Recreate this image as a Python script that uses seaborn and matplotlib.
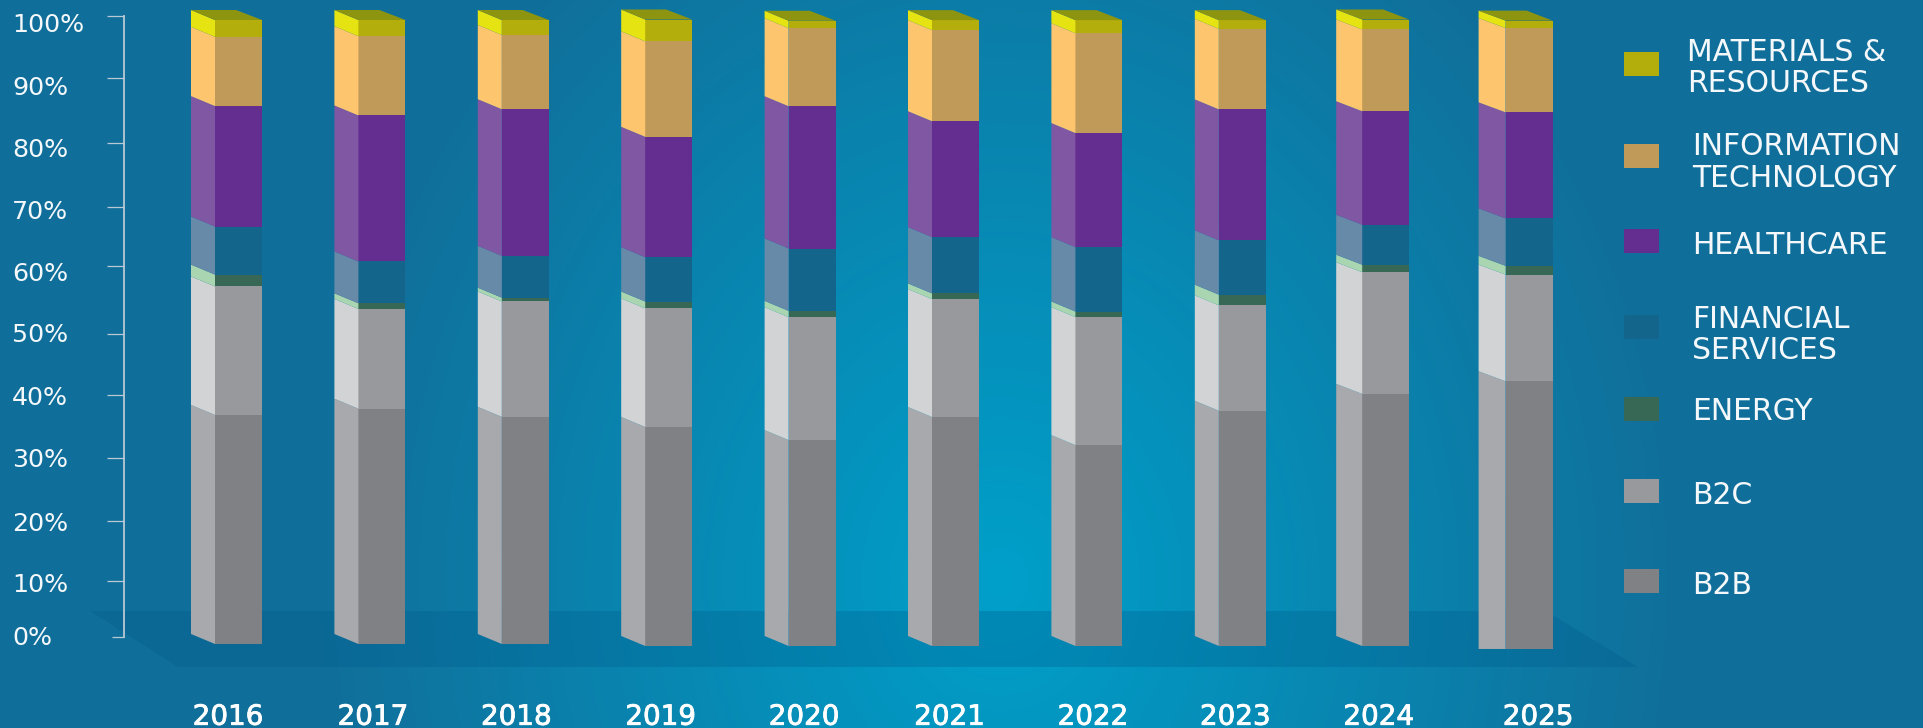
import numpy as np
import pandas as pd
import matplotlib
matplotlib.use("Agg")
import matplotlib.pyplot as plt
import matplotlib.patheffects as pe
from matplotlib.colors import to_rgb
from matplotlib.patches import Polygon, Rectangle
from matplotlib.transforms import ScaledTranslation
import seaborn as sns

# Portfolio share by sector, one list per sector, 2016 to 2025
years = ["2016", "2017", "2018", "2019", "2020", "2021", "2022", "2023", "2024", "2025"]
b2b = [36.7, 37.7, 36.4, 35.1, 33.0, 36.7, 32.2, 37.7, 40.4, 42.9]
b2c = [20.6, 16.0, 18.5, 19.0, 19.7, 18.9, 20.5, 16.9, 19.5, 17.1]
energy = [1.9, 0.9, 0.6, 1.1, 1.0, 0.9, 0.9, 1.7, 1.2, 1.4]
financial = [7.7, 6.7, 6.7, 7.1, 10.0, 9.0, 10.3, 8.7, 6.4, 7.6]
healthcare = [19.3, 23.4, 23.5, 19.3, 22.8, 18.6, 18.3, 21.0, 18.2, 17.0]
info_tech = [11.1, 12.7, 11.9, 15.3, 12.5, 14.6, 16.0, 12.9, 13.1, 13.5]
materials = [2.7, 2.6, 2.4, 3.5, 1.2, 1.6, 2.1, 1.4, 1.6, 1.2]

# Where each column's foot sits relative to the zero line
bar_floor = [0, 0, 0, -0.32, -0.32, -0.32, -0.32, -0.32, -0.32, -0.8]

sectors = ["B2B", "B2C", "ENERGY", "FINANCIAL\nSERVICES", "HEALTHCARE",
           "INFORMATION\nTECHNOLOGY", "MATERIALS &\nRESOURCES"]
sector_values = [b2b, b2c, energy, financial, healthcare, info_tech, materials]

front_colors = ["#808184", "#98999d", "#366855", "#14658c", "#642d90", "#c09a59", "#b3ae0b"]
side_colors = ["#a7a9ac", "#d1d3d4", "#a9d6b0", "#678aa9", "#7f57a3", "#fec56f", "#e6e312"]
top_color = "#8d9510"

W, H = 1923, 728
sns.set_style("white")
plt.rcParams["font.family"] = ["DejaVu Sans"]
fig = plt.figure(figsize=(W / 100, H / 100), dpi=100)


def axes_at(left, top, right, bottom):
    """Axes placed by pixel edges, measured from the top-left corner."""
    a = fig.add_axes([left / W, (H - bottom) / H, (right - left) / W, (bottom - top) / H])
    a.patch.set_alpha(0)
    return a


def nudge(artist, dx, dy):
    """Shift a text by a number of pixels (dy downwards)."""
    artist.set_transform(artist.get_transform()
                         + ScaledTranslation(dx / 100, -dy / 100, fig.dpi_scale_trans))


# Backdrop: a soft glow in the lower middle of a steel-blue field, and the floor
bg = axes_at(0, 0, W, H)
bg.set_xlim(0, W)
bg.set_ylim(H, 0)
bg.axis("off")
xx, yy = np.meshgrid(np.arange(W), np.arange(H))
t = np.clip(np.hypot((xx - 1000) / 680, (yy - 580) / 800), 0, 1)[..., None]
edge = np.array(to_rgb("#106f9a"))
glow = np.array(to_rgb("#00a0ca"))
bg.imshow(edge * t + glow * (1 - t), extent=(0, W, H, 0), aspect="auto", zorder=0)
bg.add_patch(Polygon([(90, 611), (1546, 611), (1638, 667), (178, 667)],
                     closed=True, facecolor=(0, 90 / 255, 140 / 255, 0.3),
                     edgecolor="none", zorder=1))

# Legend swatches and labels
swatch_tops = [569, 479, 397, 315, 229, 144, 52]
label_lefts = [1692, 1692, 1692, 1692, 1692, 1692, 1687]
label_middles = [585.5, 495.5, 411.5, 335, 245, 162.5, 68]
for name, color, s_top, l_left, l_mid in zip(sectors, front_colors, swatch_tops,
                                             label_lefts, label_middles):
    bg.add_patch(Rectangle((1624, s_top), 35, 24, facecolor=color, edgecolor="none", zorder=2))
    bg.text(l_left, l_mid, name, color="#f4f8fa", fontsize=21.5, ha="left", va="center",
            linespacing=1.13, zorder=3)

# Percentage scale on the left
axis_ticks = [0, 9.1, 18.7, 28.9, 38.9, 48.8, 59.7, 69.3, 79.6, 89.9, 100]
axis_labels = ["0%", "10%", "20%", "30%", "40%", "50%", "60%", "70%", "80%", "90%", "100%"]
label_shift = [-2, 2, 0, 0, 0, -1, 5, 3, 5, 7, 7]
scale = axes_at(124, 15.7, 300, 637.3)
scale.set_ylim(0, 100)
scale.set_xticks([])
sns.despine(ax=scale, left=False, right=True, top=True, bottom=True)
scale.spines["left"].set_color("#b9c9d4")
scale.spines["left"].set_linewidth(1.3)
scale.set_yticks(axis_ticks, axis_labels)
scale.tick_params(axis="y", length=12.2, width=0.9, color="#b9c9d4", pad=68.5,
                  labelcolor="#f4f8fa", labelsize=18.2, left=True)
for tick, shift in zip(scale.yaxis.get_major_ticks(), label_shift):
    tick.label1.set_ha("left")
    nudge(tick.label1, 0, shift)
scale.yaxis.get_major_ticks()[0].tick1line.set_markersize(8.6)

# Stacked columns: front faces through seaborn, then the side and top faces
ax = axes_at(166.8, 7.52, 1600.8, 650.24)
side_depth = [24, 24, 24, 24, 24, 24, 24, 24, 26, 27]
rise = 10 / 6.24
bar_width = 47 / 143.4
px_x = 1 / 143.4

base = np.array(bar_floor, dtype=float)
for values, color in zip(sector_values, front_colors):
    frame = pd.DataFrame({"year": years, "share": values})
    sns.barplot(data=frame, x="year", y="share", order=years, color=color, saturation=1,
                width=bar_width, bottom=base, errorbar=None, linewidth=0, ax=ax, zorder=3)
    base = base + np.array(values)

for i in range(len(years)):
    low = bar_floor[i]
    left = i - bar_width / 2
    back = left - side_depth[i] * px_x
    for j, (values, color) in enumerate(zip(sector_values, side_colors)):
        high = low + values[i]
        # the 2025 column stands with a level foot
        foot = low if (j == 0 and years[i] == "2025") else low + rise
        ax.add_patch(Polygon([(left, low), (left, high), (back, high + rise), (back, foot)],
                             closed=True, facecolor=color, edgecolor="none", zorder=3))
        low = high
    ax.add_patch(Polygon([(left, low), (left + bar_width, low),
                          (left + bar_width - 26 * px_x, low + rise), (back, low + rise)],
                         closed=True, facecolor=top_color, edgecolor="none", zorder=3))

ax.set_xlim(-0.5, 9.5)
ax.set_ylim(-1, 102)
ax.set_xlabel("")
ax.set_ylabel("")
ax.set_yticks([])
sns.despine(ax=ax, left=True, bottom=True)
ax.tick_params(axis="x", length=0, pad=37.8, labelcolor="white", labelsize=20)
year_shift = [-10.5, -9, -9, -8, -8, -6, -6, -7, -7, 9]
for lab, shift in zip(ax.get_xticklabels(), year_shift):
    lab.set_path_effects([pe.withStroke(linewidth=0.6, foreground="white")])
    nudge(lab, shift, 0)

fig.savefig("out.png", dpi=100)
